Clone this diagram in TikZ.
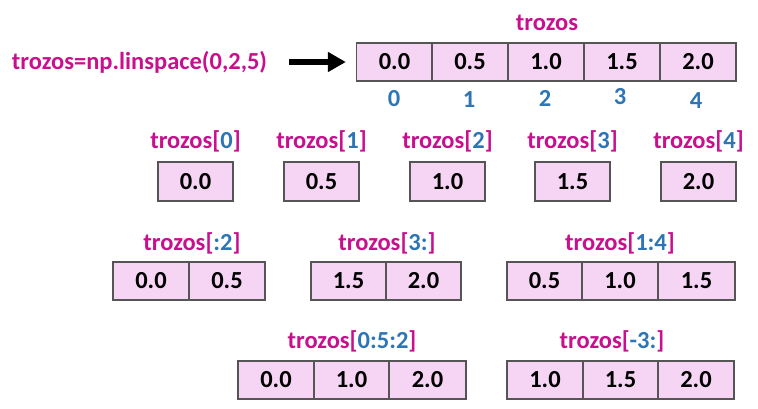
\documentclass[tikz,border=0pt]{standalone}
\usepackage{fontspec}
\setmainfont{Carlito}
\usetikzlibrary{arrows.meta}
\definecolor{mag}{HTML}{C8108F}
\definecolor{idx}{HTML}{2E75B6}
\definecolor{cellfill}{HTML}{F5D5F3}
\definecolor{cellline}{HTML}{555555}
\newcommand\trz[1]{trozos[\textcolor{idx}{#1}]}
\begin{document}
\begin{tikzpicture}[x=1pt,y=-1pt,
  cell/.style={draw=cellline, line width=1.3pt, fill=cellfill, minimum width=76pt, minimum height=38pt, inner sep=0pt, text=black, font=\fontsize{24.5}{29}\selectfont\bfseries},
  lbl/.style={anchor=base, inner sep=0pt, text=mag, font=\fontsize{24.5}{29}\selectfont\bfseries},
  ix/.style={anchor=base, inner sep=0pt, text=idx, font=\fontsize{24.5}{29}\selectfont\bfseries},
  bigarrow/.style={line width=6pt, -{Triangle[length=18pt,width=19pt]}}
]
\useasboundingbox (0,0) rectangle (758,409);

% top: full array
\node[lbl] (lhs) at (139.5,70) {trozos=np.linspace(0,2,5)};
\node[lbl] (ttop) at (547,31) {trozos};
\node[cell] (m0) at (394.5,62) {0.0};
\node[cell] (m1) at (470,62) {0.5};
\node[cell] (m2) at (546,62) {1.0};
\node[cell] (m3) at (622,62) {1.5};
\node[cell] (m4) at (698,62) {2.0};
\node[ix] (i0) at (394,107) {0};
\node[ix] (i1) at (469,108) {1};
\node[ix] (i2) at (545,107) {2};
\node[ix] (i3) at (620,105) {3};
\node[ix] (i4) at (696,109) {4};
\draw[bigarrow, shorten <=22pt, shorten >=10pt] (lhs.east |- m0.west) -- (m0.west);

% row 2: single elements
\node[lbl] (l0) at (195.5,149) {\trz{0}};
\node[lbl] (l1) at (321.5,149) {\trz{1}};
\node[lbl] (l2) at (447.5,149) {\trz{2}};
\node[lbl] (l3) at (572.5,149) {\trz{3}};
\node[lbl] (l4) at (698.5,149) {\trz{4}};
\node[cell, minimum width=75pt, minimum height=39pt] (s0) at (195.5,181.5) {0.0};
\node[cell, minimum width=75pt, minimum height=39pt] (s1) at (321.5,181.5) {0.5};
\node[cell, minimum width=75pt, minimum height=39pt] (s2) at (447.5,181.5) {1.0};
\node[cell, minimum width=75pt, minimum height=39pt] (s3) at (572.5,181.5) {1.5};
\node[cell, minimum width=75pt, minimum height=39pt] (s4) at (698.5,181.5) {2.0};

% row 3
\node[lbl] (la) at (192,250) {\trz{:2}};
\node[cell] (a0) at (151,281) {0.0};
\node[cell] (a1) at (227,281) {0.5};
\node[lbl] (lb) at (387,250) {\trz{3:}};
\node[cell, minimum width=75pt] (b0) at (348.5,281) {1.5};
\node[cell, minimum width=75pt] (b1) at (423.5,281) {2.0};
\node[lbl] (lc) at (620,250) {\trz{1:4}};
\node[cell, minimum width=75pt] (c0) at (544.5,281) {0.5};
\node[cell] (c1) at (620,281) {1.0};
\node[cell, minimum width=77pt] (c2) at (696.5,281) {1.5};

% row 4
\node[lbl] (ld) at (352,348) {\trz{0:5:2}};
\node[cell] (d0) at (276,380) {0.0};
\node[cell, minimum width=75pt] (d1) at (351.5,380) {1.0};
\node[cell, minimum width=77pt] (d2) at (427.5,380) {2.0};
\node[lbl] (le) at (612,348) {\trz{-3:}};
\node[cell] (e0) at (545,380) {1.0};
\node[cell, minimum width=75pt] (e1) at (620.5,380) {1.5};
\node[cell] (e2) at (696,380) {2.0};
\end{tikzpicture}
\end{document}
